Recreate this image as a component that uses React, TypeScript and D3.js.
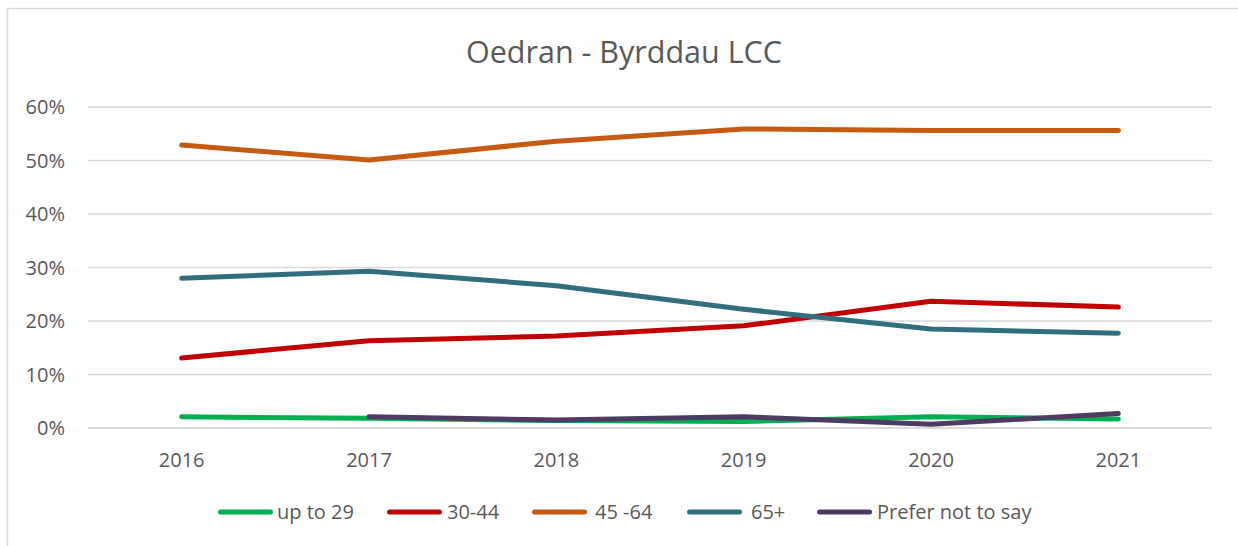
import React from "react";
import * as d3 from "d3";

const years = ["2016", "2017", "2018", "2019", "2020", "2021"];
const seriesNames = ["up to 29", "30-44", "45 -64", "65+", "Prefer not to say"];
const upTo29 = [2.1, 1.8, 1.4, 1.2, 2.1, 1.7];
const s30to44 = [13.1, 16.3, 17.2, 19.1, 23.7, 22.6];
const s45to64 = [52.9, 50.1, 53.6, 55.9, 55.6, 55.6];
const s65plus = [28.0, 29.3, 26.6, 22.2, 18.5, 17.7];
const preferNot = [null, 2.1, 1.5, 2.1, 0.7, 2.7];
const yTicks = [0, 10, 20, 30, 40, 50, 60];
const colors = ["#00b050", "#c00000", "#c55a11", "#2f6f7f", "#4d3b63"];

const W = 1238;
const H = 546;
const FONT = "'Open Sans', Lato, sans-serif";

export default function App() {
  const allSeries = [upTo29, s30to44, s45to64, s65plus, preferNot];
  const x = d3.scaleBand<string>().domain(years).range([88, 1212]);
  const y = d3.scaleLinear().domain([0, 60]).range([428, 107]);
  const line = d3
    .line<number | null>()
    .defined((d) => d != null)
    .x((_, i) => (x(years[i]) as number) + x.bandwidth() / 2)
    .y((d) => y(d as number));

  const legendItems = [
    { lx: 218, tx: 277 },
    { lx: 387, tx: 447 },
    { lx: 532, tx: 595 },
    { lx: 687, tx: 751 },
    { lx: 817, tx: 877 },
  ];

  return (
    <div style={{ position: "fixed", left: 0, top: 0 }}>
      <svg width={W} height={H} style={{ display: "block", background: "#fff" }}>
        <rect x={7.5} y={8.5} width={1240} height={560} fill="#fff" stroke="#d9d9d9" strokeWidth={1.5} />
        <text x={624} y={63} textAnchor="middle" fontFamily={FONT} fontSize={30.5} fill="#595959">
          Oedran - Byrddau LCC
        </text>
        {yTicks.map((t) => (
          <g key={t}>
            <line x1={88} x2={1212} y1={y(t)} y2={y(t)} stroke={t === 0 ? "#d0d0d0" : "#d9d9d9"} strokeWidth={1.5} />
            <text x={65} y={y(t) + 7} textAnchor="end" fontFamily={FONT} fontSize={20} fill="#595959">
              {t}%
            </text>
          </g>
        ))}
        {years.map((yr) => (
          <text
            key={yr}
            x={(x(yr) as number) + x.bandwidth() / 2}
            y={467}
            textAnchor="middle"
            fontFamily={FONT}
            fontSize={20}
            fill="#595959"
          >
            {yr}
          </text>
        ))}
        {allSeries.map((s, i) => (
          <path
            key={i}
            d={line(s as (number | null)[]) || ""}
            fill="none"
            stroke={colors[i]}
            strokeWidth={5}
            strokeLinecap="round"
            strokeLinejoin="round"
          />
        ))}
        {seriesNames.map((n, i) => (
          <g key={n}>
            <line
              x1={legendItems[i].lx + 2.5}
              x2={legendItems[i].lx + 52.5}
              y1={512}
              y2={512}
              stroke={colors[i]}
              strokeWidth={5}
              strokeLinecap="round"
            />
            <text x={legendItems[i].tx} y={519} fontFamily={FONT} fontSize={20} fill="#595959">
              {n}
            </text>
          </g>
        ))}
      </svg>
    </div>
  );
}
